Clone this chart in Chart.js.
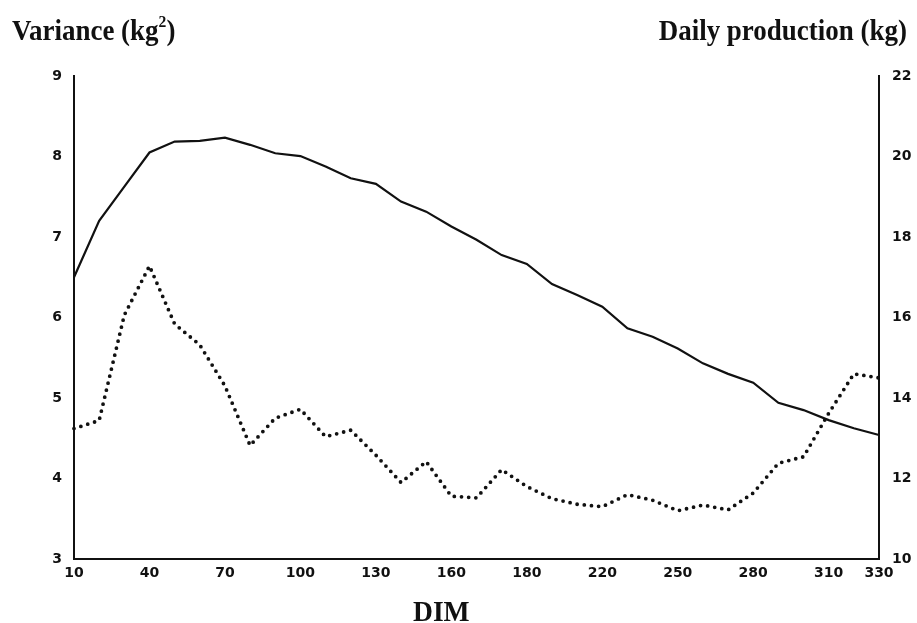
<!DOCTYPE html>
<html>
<head>
<meta charset="utf-8">
<title>Variance and daily production by DIM</title>
<script src="https://cdn.jsdelivr.net/npm/chart.js@4/dist/chart.umd.min.js"></script>
<style>
    body { margin: 0; background: #fff; }
    .wrap { position: relative; width: 917px; height: 623px; }
    .label {
        position: absolute;
        font-family: 'Liberation Serif', 'Times New Roman', serif;
        font-weight: bold;
        font-size: 29px;
        line-height: 29px;
        color: #111;
        white-space: nowrap;
    }
    .label sup { font-size: 58%; line-height: 0; vertical-align: 0.75em; }
    #left-title { left: 12px; top: 16px; transform: scaleX(0.93); transform-origin: left top; }
    #right-title { right: 10px; top: 16px; transform: scaleX(0.93); transform-origin: right top; }
    #x-title { left: 413px; top: 597px; transform: scaleX(0.95); transform-origin: left top; }
</style>
</head>
<body>
<div class="wrap">
    <canvas id="chart" width="917" height="623"></canvas>
    <div class="label" id="left-title">Variance (kg<sup>2</sup>)</div>
    <div class="label" id="right-title">Daily production (kg)</div>
    <div class="label" id="x-title">DIM</div>
</div>
<script>
// Days in milk, one point every 10 days
const days = [10, 20, 30, 40, 50, 60, 70, 80, 90, 100, 110, 120, 130, 140, 150, 160, 170,
    180, 190, 200, 210, 220, 230, 240, 250, 260, 270, 280, 290, 300, 310, 320, 330];

// Variance (kg^2), dotted line, left axis
const variance = [4.62, 4.72, 6.03, 6.64, 5.92, 5.66, 5.15, 4.41, 4.75, 4.86, 4.52, 4.60, 4.29,
    3.95, 4.21, 3.78, 3.76, 4.11, 3.90, 3.75, 3.68, 3.65, 3.80, 3.73, 3.60, 3.67, 3.61,
    3.82, 4.19, 4.27, 4.81, 5.30, 5.25];

// Daily production (kg), solid line, right axis
const production = [17.0, 18.4, 19.25, 20.1, 20.37, 20.39, 20.47, 20.29, 20.08, 20.01, 19.75,
    19.46, 19.32, 18.88, 18.63, 18.26, 17.93, 17.55, 17.33, 16.83, 16.56, 16.27, 15.73,
    15.52, 15.23, 14.86, 14.6, 14.38, 13.88, 13.70, 13.45, 13.25, 13.08];

// X tick positions and the labels printed under them
const xTickValues = [10, 40, 70, 100, 130, 160, 190, 220, 250, 280, 310, 330];
const xTickLabels = ['10', '40', '70', '100', '130', '160', '180', '220', '250', '280', '310', '330'];

const ink = '#111';
const tickFont = { family: "'DejaVu Sans', sans-serif", size: 14, weight: 'bold' };

function toPoints(values) {
    return days.map((d, i) => ({ x: d, y: values[i] }));
}

function initChart() {
    const ctx = document.getElementById('chart').getContext('2d');
    new Chart(ctx, {
        type: 'line',
        data: {
            datasets: [{
                label: 'Daily production',
                data: toPoints(production),
                yAxisID: 'yRight',
                borderColor: ink,
                borderWidth: 2.2,
                pointRadius: 0,
                tension: 0,
                clip: 4
            }, {
                label: 'Variance',
                data: toPoints(variance),
                yAxisID: 'yLeft',
                borderColor: ink,
                borderWidth: 3.8,
                borderDash: [0, 7.2],
                borderCapStyle: 'round',
                pointRadius: 0,
                tension: 0,
                clip: 6
            }]
        },
        options: {
            responsive: false,
            animation: false,
            layout: { padding: { top: 76, left: 0, right: 0, bottom: 0 } },
            plugins: {
                legend: { display: false },
                tooltip: { enabled: false }
            },
            scales: {
                x: {
                    type: 'linear',
                    min: 10,
                    max: 330,
                    afterBuildTicks: (scale) => {
                        scale.ticks = xTickValues.map(v => ({ value: v }));
                    },
                    afterFit: (scale) => { scale.height = 64; },
                    grid: { display: true, drawOnChartArea: false, drawTicks: false },
                    border: { display: true, color: ink, width: 2 },
                    ticks: {
                        autoSkip: false,
                        maxRotation: 0,
                        padding: 6,
                        color: ink,
                        font: tickFont,
                        callback: (value) => xTickLabels[xTickValues.indexOf(value)]
                    }
                },
                yLeft: {
                    position: 'left',
                    min: 3,
                    max: 9,
                    afterFit: (scale) => { scale.width = 74; },
                    grid: { display: true, drawOnChartArea: false, drawTicks: false },
                    border: { display: true, color: ink, width: 2 },
                    ticks: { stepSize: 1, padding: 12, color: ink, font: tickFont }
                },
                yRight: {
                    position: 'right',
                    min: 10,
                    max: 22,
                    afterFit: (scale) => { scale.width = 38; },
                    grid: { display: true, drawOnChartArea: false, drawTicks: false },
                    border: { display: true, color: ink, width: 2 },
                    ticks: { stepSize: 2, padding: 13, color: ink, font: tickFont }
                }
            }
        }
    });
}

document.addEventListener('DOMContentLoaded', initChart);
</script>
</body>
</html>
